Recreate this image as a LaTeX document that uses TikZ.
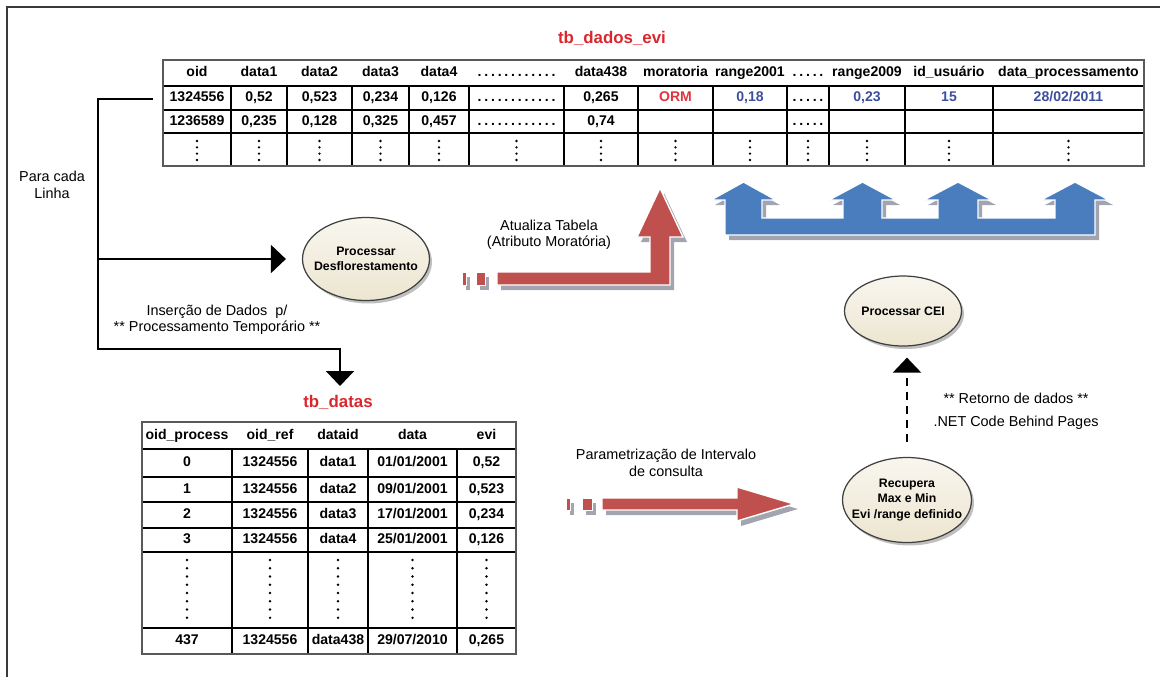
\documentclass[tikz,border=0pt]{standalone}
\usepackage{fontspec}
\setmainfont{Liberation Sans}
\usetikzlibrary{arrows.meta,positioning,calc,shapes.geometric,shadows}
\definecolor{titred}{HTML}{D9272E}
\definecolor{ormred}{HTML}{E0343C}
\definecolor{valblue}{HTML}{3C4E9E}
\definecolor{setared}{HTML}{C0504D}
\definecolor{setablue}{HTML}{4A7DBE}
\definecolor{shadowgray}{HTML}{A2A5B0}
\definecolor{ellbeige}{HTML}{ECE5D0}
\definecolor{framegray}{HTML}{3A3A3A}
\newcommand{\pontos}[1]{\foreach \k in {2,...,#1}{.\hspace{1.6pt}}.}

\begin{document}
\begin{tikzpicture}[x=0.02cm,y=-0.02cm,
 cel/.style={font=\fontsize{8}{9.6}\selectfont\bfseries,inner sep=0pt,text height=6pt,text depth=1.6pt},
 lbl/.style={font=\fontsize{8.2}{9.4}\selectfont,align=center,inner sep=0pt},
 tit/.style={font=\fontsize{9.6}{11}\selectfont\bfseries,text=titred,inner sep=0pt},
 proc/.style={ellipse,draw=black!75,line width=0.7pt,top color=ellbeige!35,bottom color=ellbeige,
   inner sep=0pt,drop shadow={shadow xshift=0.05cm,shadow yshift=-0.06cm,fill=black!25,opacity=1}},
 proctxt/.style={font=\fontsize{7}{8.6}\selectfont\bfseries,align=center,inner sep=0pt},
 seta/.style={line width=1.2pt,-{Triangle[length=0.3cm,width=0.56cm]}},
 tracos/.style={seta,dash pattern=on 0.16cm off 0.12cm},
 grade/.style={line width=0.6pt},
 borda/.style={line width=1.1pt,draw=black!65},
 vdots/.style={line width=1.5pt,line cap=round,dash pattern=on 0pt off #1},
 bloco/.style={draw=white,line width=0.8pt,
   drop shadow={shadow xshift=0.08cm,shadow yshift=-0.1cm,fill=shadowgray,opacity=1}},
 barra/.style={bloco,line width=0.3pt}]
\useasboundingbox (0,0) rectangle (1160,677);
\draw[framegray,line width=1pt] (7,677) -- (7,7) -- (1160,7);

% tabela tb_dados_evi
\node[tit] (tdados) at (612,38) {tb\_dados\_evi};
\draw[grade] (163,86) -- (1144,86) (163,110) -- (1144,110) (163,133) -- (1144,133);
\foreach \x in {231,287,352,409,469,564,638,713,787,829,905,993}
  \draw[grade] (\x,86) -- (\x,166);
\draw[borda] (163,60) rectangle (1144,166);
\foreach \x/\t [count=\i] in {197/oid,259/data1,319.5/data2,380.5/data3,439/data4,516.5/\pontos{12},
  601/data438,675.5/moratoria,750/range2001,808/\pontos{5},867/range2009,949/id\_usuário,1068.5/data\_processamento}
  \node[cel] (a\i) at (\x,73) {\t};
\foreach \x/\t/\c [count=\i] in {197/1324556/black,259/{0,52}/black,319.5/{0,523}/black,380.5/{0,234}/black,
  439/{0,126}/black,516.5/\pontos{12}/black,601/{0,265}/black,675.5/ORM/ormred,750/{0,18}/valblue,
  808/\pontos{5}/black,867/{0,23}/valblue,949/15/valblue,1068.5/{28/02/2011}/valblue}
  \node[cel,text=\c] (b\i) at (\x,98) {\t};
\foreach \x/\t [count=\i] in {197/1236589,259/{0,235},319.5/{0,128},380.5/{0,325},439/{0,457},
  516.5/\pontos{12},601/{0,74},808/\pontos{5}}
  \node[cel] (c\i) at (\x,121.5) {\t};
\foreach \x in {197,259,319.5,380.5,439,516.5,601,675.5,750,808,867,949,1068.5}
  \draw[vdots=3.6pt] (\x,141) -- (\x,161.5);

% para cada linha
\coordinate (linha) at (153,99);
\coordinate (desce) at (340,386);
\node[lbl] (para) at (52,185) {Para cada\\Linha};
\node[lbl] (insercao) at (217,320) {Inserção de Dados~~p/\\** Processamento Temporário **};

% processos
\node[proc,minimum width=2.54cm,minimum height=1.66cm] (desf) at (366,259) {};
\node[proctxt] (desftxt) at (desf) {Processar\\Desflorestamento};
\node[proc,minimum width=2.34cm,minimum height=1.4cm] (cei) at (903,311) {};
\node[proctxt] (ceitxt) at (cei) {Processar CEI};
\node[proc,minimum width=2.58cm,minimum height=1.7cm] (recup) at (907,500) {};
\node[proctxt] (recuptxt) at (recup) {Recupera\\Max e Min\\Evi /range definido};

\draw[seta] (linha) -| (98,349) -| (desce);
\draw[seta,shorten >=0.32cm] (98,259) -- (desf.west);
\draw[tracos,shorten <=0.3cm,shorten >=0.22cm] (recup.north) -- (recup.north |- cei.south);
\node[lbl] (retorno) at (1016,398) {** Retorno de dados **};
\node[lbl] (dotnet) at (1016,423) {.NET Code Behind Pages};

% setas vermelhas e azul
\path[fill=setared,barra] (462,272) rectangle (466,285);
\path[fill=setared,barra] (476,272) rectangle (485,285);
\path[fill=setared,bloco] (497,272) -- (650,272) -- (650,237) -- (637,237) -- (660,188) -- (683,237)
  -- (670,237) -- (670,285) -- (497,285) -- cycle;
\node[lbl] (atualiza) at (549,235) {Atualiza Tabela\\(Atributo Moratória)};
\path[fill=setablue,bloco] (725,235) -- (725,218)
  \foreach \a/\b in {725/762,843/882,938/978,1055/1095}
    { -- (\a,218) -- (\a,200) -- ({\a-14},200) -- ({(\a+\b)/2},182) -- ({\b+14},200) -- (\b,200) -- (\b,218) }
  -- (1095,235) -- cycle;
\path[fill=setared,barra] (566,498) rectangle (570,510);
\path[fill=setared,barra] (582,498) rectangle (592,510);
\path[fill=setared,bloco] (602,498) -- (737,498) -- (737,487) -- (794,504) -- (737,521) -- (737,510)
  -- (602,510) -- cycle;
\node[lbl] (param) at (666,463) {Parametrização de Intervalo\\de consulta};

% tabela tb_datas
\node[tit] (tdatas) at (338,402) {tb\_datas};
\foreach \y in {449,477,502,528,552,628}
  \draw[grade] (142,\y) -- (516,\y);
\foreach \x in {232,308,368,457}
  \draw[grade] (\x,449) -- (\x,654);
\draw[borda] (142,422) rectangle (516,654);
\foreach \x/\t [count=\i] in {187/oid\_process,270/oid\_ref,338/dataid,412.5/data,486.5/evi}
  \node[cel] (d\i) at (\x,436) {\t};
\foreach \y/\p/\r/\d/\dt/\e [count=\j] in {463/0/1324556/data1/{01/01/2001}/{0,52},
  489.5/1/1324556/data2/{09/01/2001}/{0,523},515/2/1324556/data3/{17/01/2001}/{0,234},
  540/3/1324556/data4/{25/01/2001}/{0,126},641/437/1324556/data438/{29/07/2010}/{0,265}}
{
  \node[cel] (p\j) at (187,\y) {\p};
  \node[cel] (r\j) at (270,\y) {\r};
  \node[cel] (s\j) at (338,\y) {\d};
  \node[cel] (t\j) at (412.5,\y) {\dt};
  \node[cel] (e\j) at (486.5,\y) {\e};
}
\foreach \x in {187,270,338,412.5,486.5}
  \draw[vdots=4.7pt] (\x,560) -- (\x,619);
\end{tikzpicture}
\end{document}
